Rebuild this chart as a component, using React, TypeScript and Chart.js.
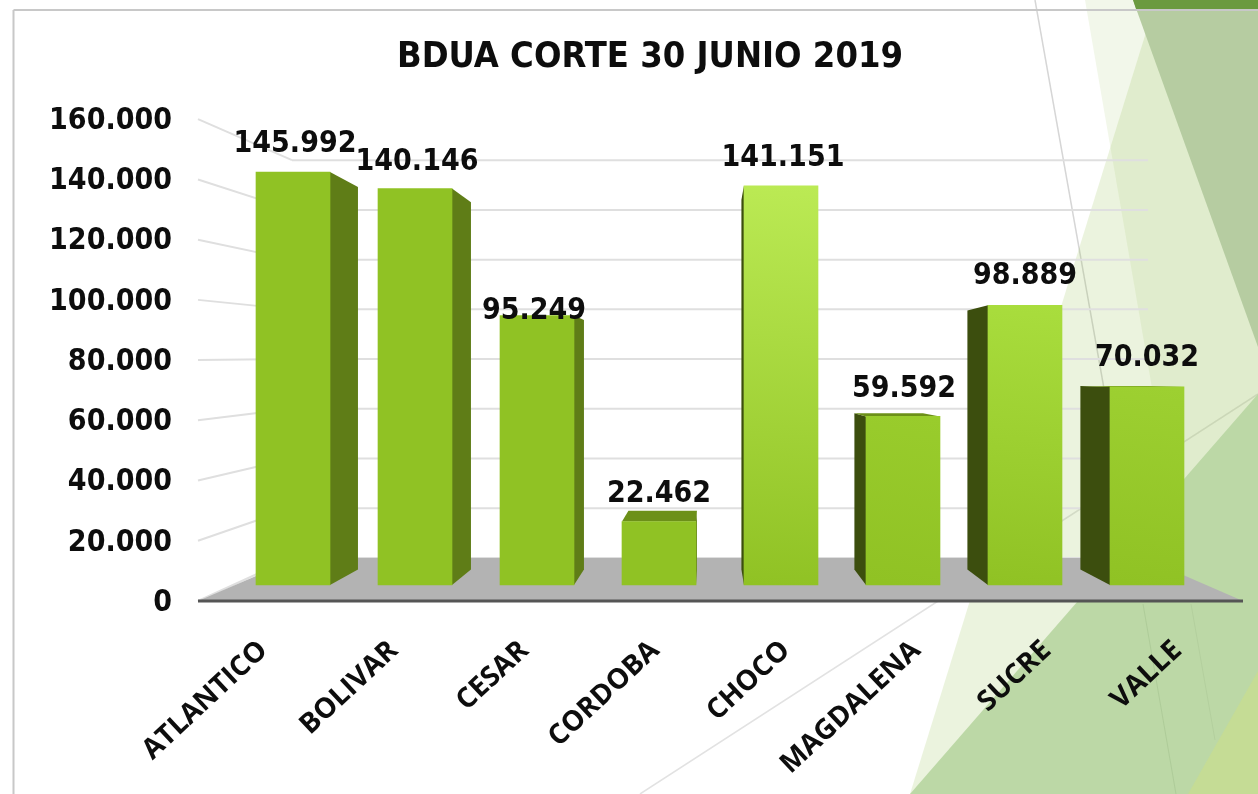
import React, { useEffect, useRef } from "react";
import Chart from "chart.js/auto";

const categories = ["ATLANTICO", "BOLIVAR", "CESAR", "CORDOBA", "CHOCO", "MAGDALENA", "SUCRE", "VALLE"];
const afiliados = [145992, 140146, 95249, 22462, 141151, 59592, 98889, 70032];
const yTicks = [0, 20000, 40000, 60000, 80000, 100000, 120000, 140000, 160000];
const titleText = "BDUA CORTE 30 JUNIO 2019";

const gradientTop = ["#90c224", "#90c224", "#90c224", "#90c224", "#bbea54", "#99cc2c", "#a9dd3d", "#9dd031"];
const gradientBottom = "#90c224";
const labelNudgeX = [2, 2, -3, 0, 2, 1, 0, 0];
const labelGap = [28, 26, 4, 27, 28, 27, 29, 29];

const VP = { x: 709, y: 375, k: 0.0738 };
const FONT = "'DejaVu Sans Condensed', 'DejaVu Sans', sans-serif";
const fmt = (v: number) => v.toLocaleString("de-DE");
const back = (x: number, y: number) => [x + (VP.x - x) * VP.k, y + (VP.y - y) * VP.k];

function poly(ctx: any, pts: number[][], fill: string) {
  ctx.beginPath();
  pts.forEach((p, i) => (i ? ctx.lineTo(p[0], p[1]) : ctx.moveTo(p[0], p[1])));
  ctx.closePath();
  ctx.fillStyle = fill;
  ctx.fill();
}
function line(ctx: any, a: number[], b: number[], color: string, w: number) {
  ctx.beginPath();
  ctx.moveTo(a[0], a[1]);
  ctx.lineTo(b[0], b[1]);
  ctx.strokeStyle = color;
  ctx.lineWidth = w;
  ctx.stroke();
}

const scenePlugin = {
  id: "scene",
  afterLayout(chart: any) {
    chart.titleBlock.left = 42;
    chart.titleBlock.right = 1258;
  },
  beforeDraw(chart: any) {
    const ctx = chart.ctx;
    const { y, yw } = chart.scales;
    ctx.save();
    // slide decoration
    line(ctx, [1258, 394], [640, 794], "#e2e2e2", 1.5);
    line(ctx, [1035, 0], [1176, 794], "#d6d6d6", 1.5);
    poly(ctx, [[1085, 0], [1258, 0], [1258, 794], [1222, 794]], "rgba(150,190,80,0.12)");
    poly(ctx, [[1156, 0], [1258, 0], [1258, 794], [910, 794]], "rgba(150,190,80,0.19)");
    poly(ctx, [[1133, 0], [1258, 0], [1258, 347]], "#b6cca1");
    poly(ctx, [[1133, 0], [1258, 0], [1258, 9], [1136, 9]], "#6b9a3f");
    poly(ctx, [[1258, 394], [1258, 794], [910, 794]], "#bcd8a6");
    poly(ctx, [[1258, 671], [1258, 794], [1188, 794]], "#c5dc95");
    line(ctx, [1143, 604], [1176, 794], "rgba(150,180,130,0.35)", 1);
    line(ctx, [1191, 604], [1215, 740], "rgba(150,180,130,0.25)", 1);
    line(ctx, [13.5, 10], [1258, 10], "#c8c8c8", 2);
    line(ctx, [13.5, 10], [13.5, 794], "#c8c8c8", 2);
    // back wall, side wall and floor
    yTicks.forEach((t) => {
      const py = yw.getPixelForValue(t);
      line(ctx, [292, py], [1148, py], "#dfdfdf", 2);
      line(ctx, [198, y.getPixelForValue(t)], [292, py], "#dfdfdf", 2);
    });
    poly(ctx, [[198, 601], [298, 558], [1144, 558], [1243, 601]], "#b3b3b3");
    line(ctx, [198, 601], [1243, 601], "#555555", 3);
    ctx.restore();
  },
  beforeDatasetsDraw(chart: any) {
    const ctx = chart.ctx;
    ctx.save();
    chart.getDatasetMeta(0).data.forEach((bar: any) => {
      const l = bar.x - bar.width / 2;
      const r = bar.x + bar.width / 2;
      const t = bar.y;
      const b = bar.base;
      const toRight = bar.x < VP.x;
      const e = toRight ? r : l;
      const bt = back(e, t);
      const bb = back(e, b);
      poly(ctx, [[e, t], bt, bb, [e, b]], toRight ? "#5f7d17" : "#3c4e0e");
      if (t > VP.y - 4) {
        poly(ctx, [[l, t], back(l, t), back(r, t), [r, t]], "#6c9018");
      }
    });
    ctx.restore();
  },
  afterDatasetsDraw(chart: any) {
    const ctx = chart.ctx;
    ctx.save();
    ctx.font = `bold 30px ${FONT}`;
    ctx.fillStyle = "#0d0d0d";
    ctx.textAlign = "center";
    ctx.textBaseline = "middle";
    chart.getDatasetMeta(0).data.forEach((bar: any, i: number) => {
      ctx.fillText(fmt(afiliados[i]), bar.x + labelNudgeX[i], bar.y - labelGap[i]);
    });
    ctx.restore();
  },
};

export default function App() {
  const ref = useRef<HTMLCanvasElement>(null);
  useEffect(() => {
    const chart = new Chart(ref.current as HTMLCanvasElement, {
      type: "bar",
      data: {
        labels: categories,
        datasets: [
          {
            label: "BDUA",
            data: afiliados.map((v, i) => ({ x: i, y: v })),
            xAxisID: "xb",
            yAxisID: "yb",
            barThickness: 74,
            borderWidth: 0,
            backgroundColor: (c: any) => {
              const { chart: ch, dataIndex } = c;
              if (dataIndex === undefined || !ch.chartArea) return gradientBottom;
              const yb = ch.scales.yb;
              const xb = ch.scales.xb;
              const px = xb.getPixelForValue(dataIndex);
              const g = ch.ctx.createLinearGradient(px + 20, yb.getPixelForValue(afiliados[dataIndex]), px - 10, yb.getPixelForValue(0));
              g.addColorStop(0, gradientTop[dataIndex]);
              g.addColorStop(1, gradientBottom);
              return g;
            },
          },
        ],
      },
      options: {
        responsive: false,
        animation: false,
        layout: { padding: { left: 0, right: 15, top: 0, bottom: 0 } },
        plugins: {
          legend: { display: false },
          tooltip: { enabled: false },
          title: {
            display: true,
            text: titleText,
            color: "#0d0d0d",
            font: { family: FONT, size: 36, weight: "bold", lineHeight: 1.2 },
            padding: { top: 36, bottom: 40 },
          },
        },
        scales: {
          x: {
            type: "category",
            offset: true,
            grid: { display: false, drawTicks: false },
            border: { display: false },
            afterFit: (s: any) => { s.height = 193; },
            ticks: {
              autoSkip: false,
              minRotation: 43,
              maxRotation: 43,
              padding: 33,
              color: "#0d0d0d",
              font: { family: "'Open Sans', sans-serif", size: 28, weight: "700" },
            },
          },
          xb: { type: "linear", display: false, offset: false, min: -0.7787, max: 7.787, grid: { offset: false } },
          y: {
            position: "left",
            min: 0,
            max: 160000,
            afterFit: (s: any) => { s.width = 198; },
            afterBuildTicks: (s: any) => { s.ticks = yTicks.map((value) => ({ value })); },
            grid: { display: false, drawTicks: false },
            border: { display: false },
            ticks: {
              padding: 26,
              labelOffset: 2,
              color: "#0d0d0d",
              font: { family: FONT, size: 30, weight: "bold" },
              callback: (v: any) => fmt(Number(v)),
            },
          },
          yb: { type: "linear", display: false, min: -5654, max: 164664 },
          yw: { type: "linear", display: false, min: -17286, max: 176482 },
        },
      },
      plugins: [scenePlugin],
    } as any);
    return () => chart.destroy();
  }, []);
  return (
    <canvas
      ref={ref}
      width={1258}
      height={794}
      style={{ position: "fixed", left: 0, top: 0, width: 1258, height: 794, display: "block" }}
    />
  );
}
